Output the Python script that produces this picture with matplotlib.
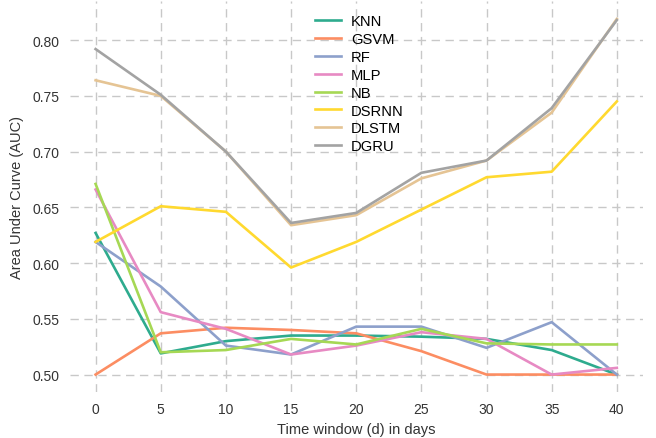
import matplotlib
matplotlib.use("Agg")
import matplotlib.pyplot as plt

plt.rcParams['font.family'] = ['Liberation Sans', 'DejaVu Sans']

# time windows (days)
days = [0, 5, 10, 15, 20, 25, 30, 35, 40]

# AUC per model
knn = [0.627, 0.519, 0.530, 0.535, 0.535, 0.534, 0.532, 0.522, 0.500]
gsvm = [0.500, 0.537, 0.542, 0.540, 0.537, 0.521, 0.500, 0.500, 0.500]
rf = [0.619, 0.579, 0.526, 0.518, 0.543, 0.543, 0.524, 0.547, 0.500]
mlp = [0.666, 0.556, 0.541, 0.518, 0.526, 0.538, 0.532, 0.500, 0.506]
nb = [0.671, 0.520, 0.522, 0.532, 0.527, 0.541, 0.528, 0.527, 0.527]
dsrnn = [0.619, 0.651, 0.646, 0.596, 0.619, 0.648, 0.677, 0.682, 0.745]
dlstm = [0.764, 0.750, 0.700, 0.634, 0.643, 0.676, 0.692, 0.735, 0.819]
dgru = [0.792, 0.751, 0.700, 0.636, 0.645, 0.681, 0.692, 0.739, 0.818]

names = ['KNN', 'GSVM', 'RF', 'MLP', 'NB', 'DSRNN', 'DLSTM', 'DGRU']
series = [knn, gsvm, rf, mlp, nb, dsrnn, dlstm, dgru]
# Set2-like colours
colors = ['#2eab8e', '#fc8d62', '#8da0cb', '#e78ac3', '#a6d854', '#ffd92f', '#e5c494', '#a3a3a3']

fig = plt.figure(figsize=(6.56, 4.39), dpi=100)
ax = fig.add_axes([0.106, 0.104, 0.874, 0.891])

for name, vals, c in zip(names, series, colors):
    ax.plot(days, vals, color=c, lw=1.9, label=name)

ax.set_xticks(days)
ax.set_yticks([0.50, 0.55, 0.60, 0.65, 0.70, 0.75, 0.80])
ax.set_yticklabels(['0.50', '0.55', '0.60', '0.65', '0.70', '0.75', '0.80'])
ax.grid(True, color='#c8c8c8', linestyle=(0, (6, 4)), lw=1.0)
ax.set_axisbelow(True)
for s in ax.spines.values():
    s.set_visible(False)
ax.tick_params(length=0, labelsize=10, colors='#333333', pad=7)

ax.set_xlabel('Time window (d) in days', fontsize=10.5, color='#333333', labelpad=4)
ax.set_ylabel('Area Under Curve (AUC)', fontsize=10.5, color='#333333', labelpad=6)

ax.legend(loc='upper left', bbox_to_anchor=(0.405, 1.0), frameon=False, fontsize=10.6,
          handlelength=1.75, labelspacing=0.26, handletextpad=0.68)

fig.savefig('out.png', dpi=100)
